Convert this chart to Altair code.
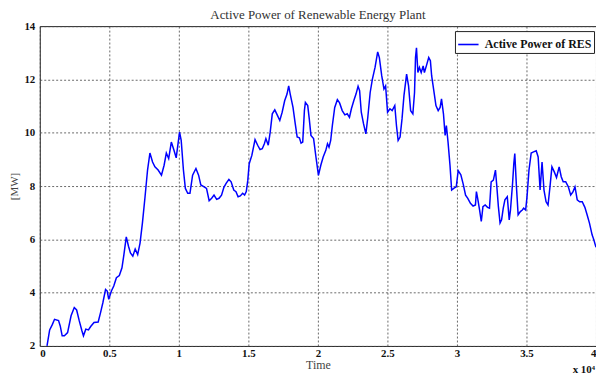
import altair as alt
import pandas as pd

# Time in seconds, active power in MW
time_s = [
    520, 710, 900, 1060, 1350, 1470, 1610, 1770, 2000, 2250, 2480, 2650, 2840, 3030, 3140, 3310,
    3500, 3660, 3900, 4200, 4370, 4540, 4730, 4850, 4960, 5150, 5320, 5510, 5720, 5910, 6050, 6220,
    6380, 6520, 6690, 6860, 7040, 7210, 7380, 7570, 7750, 7920, 8110, 8280, 8510, 8750, 8940, 9100,
    9270, 9460, 9650, 9810, 10050,
    10170, 10330, 10470, 10640, 10800, 10990, 11230, 11420, 11580, 11820, 11990, 12180, 12360, 12530,
    12720, 12890, 13070, 13240, 13400, 13600, 13760, 13950, 14110, 14260, 14420, 14590, 14730, 14850,
    14960, 15060, 15250, 15480, 15670, 15840, 16000, 16150, 16260, 16430, 16570, 16720, 16900, 17090,
    17260, 17430, 17610, 17780, 17900, 18010, 18210, 18370, 18510, 18670, 18790, 18910, 19030, 19100,
    19270, 19380, 19500, 19690, 19860, 20040,
    20210, 20380, 20570, 20690, 20800, 20920, 21040, 21210, 21400, 21560, 21750, 21940, 22110, 22270,
    22410, 22580, 22740, 22890, 23000, 23120, 23280, 23450, 23590, 23760, 23920, 24110, 24300, 24420,
    24590, 24750, 24870, 25010, 25180, 25340, 25530, 25650, 25770, 25910, 26050, 26190, 26380, 26520,
    26670, 26830, 26950, 27020, 27090, 27190, 27300, 27430, 27570, 27660, 27800, 27970, 28090, 28180,
    28320, 28490, 28650, 28790, 28890, 29030, 29150, 29240, 29360, 29500, 29620, 29790, 29950,
    30090, 30280, 30450, 30620, 30780, 30970, 31160, 31330, 31400, 31490, 31630, 31750, 31870, 32030,
    32200, 32340, 32460, 32620, 32770, 32860, 32980, 33100, 33210, 33330, 33450, 33620, 33760, 33850,
    34000, 34090, 34160, 34280, 34400, 34560, 34700, 34800, 34940, 35040, 35180, 35340, 35510, 35700,
    35840, 35980, 36120, 36260, 36410, 36550, 36690, 36830, 37000, 37160, 37350, 37500, 37640, 37820,
    38010, 38180, 38350, 38490, 38650, 38820, 39010, 39200, 39360, 39530, 39720, 39840, 40000,
]
power_mw = [
    2.0, 2.6, 2.8, 3.0, 2.95, 2.75, 2.38, 2.38, 2.5, 3.13, 3.44, 3.35, 2.94, 2.57, 2.38, 2.63,
    2.6, 2.73, 2.88, 2.9, 3.25, 3.63, 4.12, 4.06, 3.75, 4.06, 4.25, 4.56, 4.64, 4.93, 5.43, 6.09,
    5.74, 5.49, 5.37, 5.64, 5.43, 5.86, 6.61, 7.6, 8.6, 9.24, 8.9, 8.72, 8.6, 8.41, 8.78, 9.24,
    9.03, 9.65, 9.34, 9.06, 10.02,
    9.71, 8.6, 7.91, 7.73, 7.73, 8.41, 8.66, 8.41, 8.04, 7.97, 7.91, 7.45, 7.54, 7.66,
    7.5, 7.54, 7.66, 7.95, 8.1, 8.25, 8.16, 7.85, 7.79, 7.6, 7.63, 7.73, 7.66, 7.79,
    8.22, 8.84, 9.15, 9.74, 9.53, 9.37, 9.4, 9.59, 9.78, 9.53, 10.02, 10.71, 10.86, 10.65,
    10.46, 10.77, 11.2, 11.45, 11.76, 11.45, 10.95, 10.34, 9.84, 9.81, 9.61, 9.65, 10.83, 11.14,
    11.02, 10.52, 9.9, 9.78, 9.09, 8.4,
    8.78, 9.09, 9.34, 9.59, 9.46, 9.71, 10.27, 10.95, 11.24, 11.12, 10.83, 10.67, 10.71, 10.58,
    10.9, 11.2, 11.45, 11.74, 11.58, 10.77, 10.34, 9.96, 10.58, 11.51, 12.01, 12.45, 13.03, 12.82,
    12.14, 11.64, 11.76, 10.77, 10.9, 10.83, 11.02, 10.27, 9.71, 9.84, 10.52, 11.39, 12.2, 11.76,
    10.83, 10.71, 11.51, 12.82, 13.19, 12.26, 12.45, 12.26, 12.51, 12.26, 12.51, 12.82, 12.7, 12.14,
    11.64, 11.02, 10.83, 10.95, 11.27, 10.71, 9.9, 10.27, 9.65, 8.78, 7.85, 7.92, 7.97,
    8.58, 8.42, 8.07, 7.66, 7.54, 7.35, 7.25, 7.29, 7.79, 7.54, 7.1, 6.67, 7.23, 7.29,
    7.2, 7.17, 8.16, 8.22, 8.6, 8.04, 7.23, 6.61, 6.73, 7.17, 7.48, 7.6, 6.73, 7.1,
    8.1, 8.84, 9.22, 7.97, 6.92, 7.04, 7.1, 7.17, 7.1, 7.6, 8.6, 9.24, 9.28, 9.32,
    9.09, 7.85, 8.9, 7.85, 7.41, 7.29, 7.97, 8.72, 8.53, 8.32, 8.72, 8.35, 8.16, 8.16,
    7.97, 7.66, 7.79, 7.97, 7.48, 7.41, 7.41, 7.2, 6.92, 6.61, 6.17, 5.99, 5.7,
]
series_name = "Active Power of RES"
x_ticks = [0, 5000, 10000, 15000, 20000, 25000, 30000, 35000, 40000]
y_ticks = [2, 4, 6, 8, 10, 12, 14]

df = pd.DataFrame({"Time": time_s, "Power": power_mw, "Series": series_name})

SERIF = "Liberation Serif"

line = alt.Chart(df).mark_line(strokeWidth=1.5, interpolate="linear").encode(
    x=alt.X("Time:Q", scale=alt.Scale(domain=[0, 40000], nice=False, zero=False),
            axis=alt.Axis(values=x_ticks, labelExpr="datum.value / 10000", title="Time",
                          labelPadding=2, titlePadding=1)),
    y=alt.Y("Power:Q", scale=alt.Scale(domain=[2, 14], nice=False, zero=False),
            axis=alt.Axis(values=y_ticks, title="[MW]", labelPadding=5, titlePadding=4,
                          titleFontSize=11)),
    color=alt.Color("Series:N", scale=alt.Scale(domain=[series_name], range=["#0000ff"]),
                    legend=alt.Legend(title=None, orient="none", legendX=418, legendY=5,
                                      strokeColor="#222", fillColor="white", padding=2,
                                      symbolType="stroke", symbolSize=420, symbolStrokeWidth=1.6,
                                      labelFont=SERIF, labelFontSize=12, labelFontWeight="bold",
                                      labelColor="#111", labelOffset=5)),
)

exp_df = pd.DataFrame({"label": ["x 10⁴"]})
exponent = alt.Chart(exp_df).mark_text(
    font=SERIF, fontSize=11, fontWeight="bold", color="#111", align="right", baseline="middle"
).encode(x=alt.value(559), y=alt.value(346), text="label:N")

chart = alt.layer(line, exponent).properties(
    width=560,
    height=322,
    title=alt.TitleParams("Active Power of Renewable Energy Plant", font=SERIF, fontSize=13,
                          fontWeight="normal", color="#333", anchor="middle", offset=-2),
    autosize=alt.AutoSizeParams(type="none"),
    padding={"left": 32, "top": 17, "right": 0, "bottom": 29},
).configure_view(
    stroke="#222", strokeWidth=1
).configure_axis(
    domain=False, ticks=False, grid=True, gridDash=[2, 2], gridColor="#444", gridWidth=0.8,
    labelFont=SERIF, labelFontSize=11, labelFontWeight="bold", labelColor="#111",
    titleFont=SERIF, titleFontSize=12, titleFontWeight="normal", titleColor="#444",
)

chart.save("out.html", embed_options={"renderer": "svg", "actions": False})
